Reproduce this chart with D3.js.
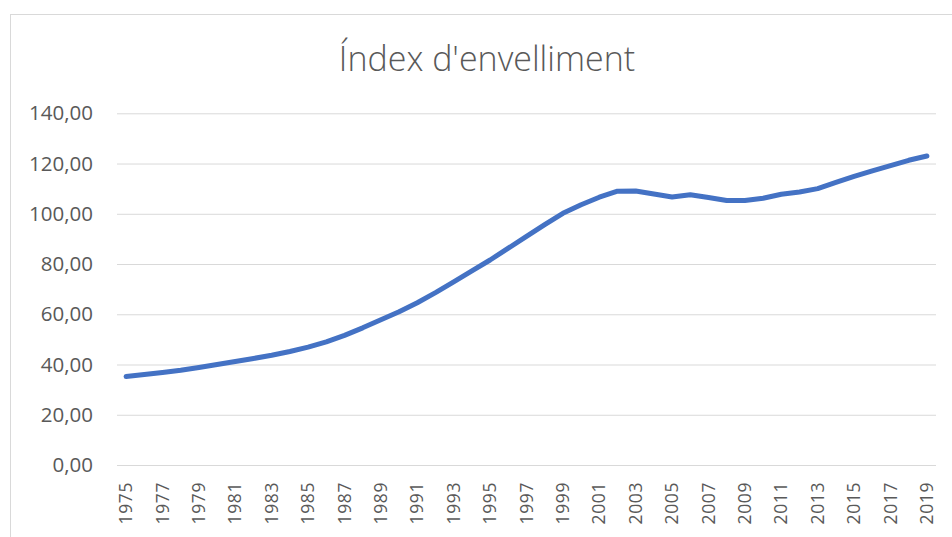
<!DOCTYPE html>
<html>
<head>
<meta charset="utf-8">
<script src="https://cdn.jsdelivr.net/npm/d3@7"></script>
<style>
  html, body { margin: 0; padding: 0; background: #fff; }
  svg { display: block; }
</style>
</head>
<body>
<svg id="chart" width="952" height="537"></svg>
<script>
const title = "Índex d'envelliment";
const years = [1975,1976,1977,1978,1979,1980,1981,1982,1983,1984,1985,1986,1987,1988,1989,1990,1991,1992,1993,1994,1995,1996,1997,1998,1999,2000,2001,2002,2003,2004,2005,2006,2007,2008,2009,2010,2011,2012,2013,2014,2015,2016,2017,2018,2019];
const values = [35.2,36.0,36.8,37.7,38.8,40.0,41.2,42.4,43.7,45.2,46.9,49.0,51.6,54.6,57.8,61.0,64.6,68.6,72.9,77.3,81.6,86.3,91.0,95.7,100.2,103.6,106.6,109.0,109.1,107.9,106.7,107.6,106.5,105.3,105.3,106.2,107.8,108.7,110.0,112.5,114.9,117.1,119.2,121.3,123.0];
const yTicks = [0,20,40,60,80,100,120,140];
const xTickLabels = years.filter((y, i) => i % 2 === 0);

const svg = d3.select("#chart");

// chart border
svg.append("rect")
  .attr("x", 10.5).attr("y", 14.5)
  .attr("width", 1000).attr("height", 1000)
  .attr("fill", "#fff").attr("stroke", "#d9d9d9").attr("stroke-width", 1);

const plotLeft = 117, plotRight = 936, plotTop = 113.3, plotBottom = 465;

const x = d3.scaleBand().domain(years).range([plotLeft, plotRight]).paddingInner(0).paddingOuter(0);
const y = d3.scaleLinear().domain([0, 140]).range([plotBottom, plotTop]);

// gridlines
const yAxis = d3.axisLeft(y).tickValues(yTicks).tickSize(-(plotRight - plotLeft))
  .tickFormat(d => d3.format(".2f")(d).replace(".", ","));
const gy = svg.append("g").attr("transform", `translate(${plotLeft},0)`).call(yAxis);
gy.select(".domain").remove();
gy.selectAll(".tick line").attr("stroke", "#d9d9d9").attr("stroke-width", 1);
gy.selectAll(".tick text")
  .attr("x", -24)
  .attr("fill", "#595959")
  .style("font-family", "'Open Sans', 'Liberation Sans', sans-serif")
  .style("font-size", "20.5px");

// x axis labels
const xAxis = d3.axisBottom(x).tickValues(xTickLabels).tickSize(0);
const gx = svg.append("g").attr("transform", `translate(0,${plotBottom})`).call(xAxis);
gx.select(".domain").remove();
gx.selectAll(".tick text")
  .attr("transform", "rotate(-90)")
  .attr("x", -17)
  .attr("y", 0)
  .attr("dy", "0.35em")
  .attr("text-anchor", "end")
  .attr("fill", "#595959")
  .style("font-family", "'Open Sans', 'Liberation Sans', sans-serif")
  .style("font-size", "17.5px")
  .style("letter-spacing", "0.6px");

// line
const line = d3.line()
  .x((d, i) => x(years[i]) + x.bandwidth() / 2)
  .y(d => y(d));
svg.append("path")
  .datum(values)
  .attr("d", line)
  .attr("fill", "none")
  .attr("stroke", "#4472C4")
  .attr("stroke-width", 5)
  .attr("stroke-linecap", "round")
  .attr("stroke-linejoin", "round");

// title
svg.append("text")
  .attr("x", 487).attr("y", 71)
  .attr("text-anchor", "middle")
  .attr("fill", "#595959")
  .style("font-family", "'Open Sans', 'Liberation Sans', sans-serif")
  .style("font-weight", "300")
  .style("font-size", "34px")
  .text(title);
</script>
</body>
</html>
